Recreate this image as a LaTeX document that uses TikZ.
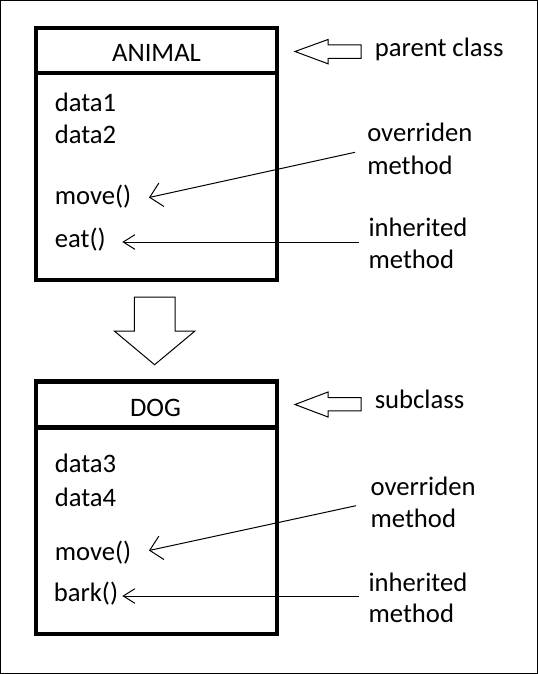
\documentclass[tikz,border=0pt]{standalone}
\usepackage{fontspec}
\setmainfont{Carlito}
\usetikzlibrary{arrows.meta}
\begin{document}
\begin{tikzpicture}[x=0.75pt,y=-0.75pt,
  classframe/.style={draw=black,line width=3.6pt},
  txt/.style={inner sep=0pt,anchor=base west,font=\fontsize{20}{24}\selectfont},
  title/.style={inner sep=0pt,anchor=base,font=\fontsize{20}{24}\selectfont},
  flatarrow/.style={draw=black,line width=0.75pt,-{Straight Barb[length=8.8pt,width=11pt,line width=0.75pt]}},
  slantarrow/.style={draw=black,line width=0.75pt,-{Straight Barb[length=9pt,width=18pt,line width=0.75pt]}},
  blockarrow/.style={draw=black,fill=white,line width=0.75pt,line join=miter}
]
\useasboundingbox (0,0) rectangle (538,674);
\draw[line width=0.75pt] (0.5,0.5) rectangle (537.5,673.5);

% ---- parent class box ----
\draw[classframe] (36,28) rectangle (277,280);
\draw[classframe] (36,73) -- (277,73);
\node[title] (animal) at (156.5,61.5) {ANIMAL};
\node[txt] (data1) at (54.5,111) {data1};
\node[txt] (data2) at (54.5,143.5) {data2};
\node[txt] (amove) at (54.5,204) {move()};
\node[txt] (aeat) at (54.5,247.3) {eat()};

% ---- subclass box ----
\draw[classframe] (36,381.7) rectangle (277,634);
\draw[classframe] (36,427.5) -- (277,427.5);
\node[title] (dog) at (155.5,416.5) {DOG};
\node[txt] (data3) at (54.5,472.7) {data3};
\node[txt] (data4) at (54.5,506) {data4};
\node[txt] (dmove) at (54.5,560) {move()};
\node[txt] (dbark) at (53.5,601.5) {bark()};

% ---- annotations ----
\node[txt] (parent) at (374.5,56.7) {parent class};
\node[txt] (ovr1) at (367,141.7) {overriden};
\node[txt] (ovr1b) at (367,174.3) {method};
\node[txt] (inh1) at (368.3,236.7) {inherited};
\node[txt] (inh1b) at (368.3,268.3) {method};

\node[txt] (sub) at (374.5,408.3) {subclass};
\node[txt] (ovr2) at (370.3,495) {overriden};
\node[txt] (ovr2b) at (370.3,527.3) {method};
\node[txt] (inh2) at (368.3,591) {inherited};
\node[txt] (inh2b) at (368.3,622.7) {method};

% ---- pointer arrows ----
\coordinate (ovr1end) at (355,152.3);
\coordinate (amovetip) at (149,197.5);
\coordinate (inh1end) at (359,242);
\coordinate (aeattip) at (122.3,242);
\coordinate (ovr2end) at (356,505.7);
\coordinate (dmovetip) at (149,550.5);
\coordinate (inh2end) at (359,596);
\coordinate (dbarktip) at (122.3,596);
\draw[slantarrow] (ovr1end) -- (amovetip);
\draw[flatarrow] (inh1end) -- (aeattip);
\draw[slantarrow] (ovr2end) -- (dmovetip);
\draw[flatarrow] (inh2end) -- (dbarktip);

% ---- block arrows ----
\draw[blockarrow] (295,51.5) -- (328,39.5) -- (328,45) -- (361,45) -- (361,58.3) -- (328,58.3) -- (328,63.8) -- cycle;
\draw[blockarrow] (295,404.5) -- (328,392) -- (328,397.5) -- (361,397.5) -- (361,410.8) -- (328,410.8) -- (328,417) -- cycle;
\draw[blockarrow] (134.3,297) -- (175,297) -- (175,331) -- (195,331) -- (154.6,364.7) -- (114.3,331) -- (134.3,331) -- cycle;
\end{tikzpicture}
\end{document}
